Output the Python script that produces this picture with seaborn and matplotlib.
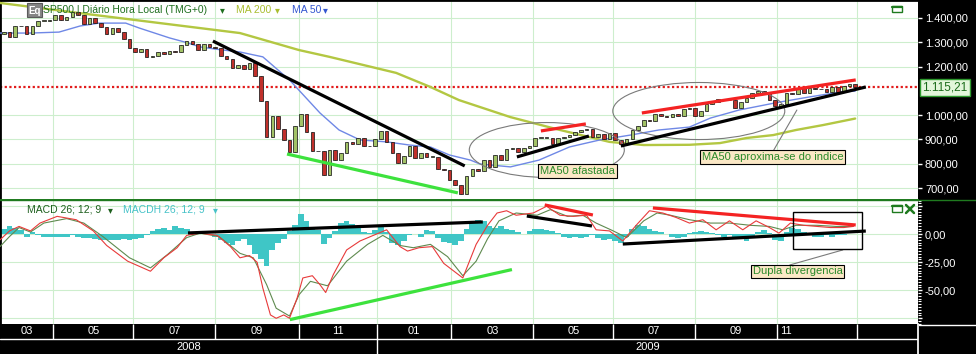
import matplotlib
matplotlib.use("Agg")
import matplotlib.pyplot as plt
import matplotlib.patches as mpatches
from matplotlib.lines import Line2D
from matplotlib.ticker import FuncFormatter, MultipleLocator
import numpy as np
import pandas as pd
import seaborn as sns

# ---------------- data (x = trading-session index, 0 = late March 2008) ----------------
session = list(range(2, 450, 3))          # one candle every 3 sessions
first_open = 1335
close = [1341, 1322, 1369, 1365, 1333, 1365, 1388, 1389, 1391, 1414,
         1393, 1404, 1424, 1413, 1376, 1398, 1378, 1361, 1336, 1360,
         1343, 1314, 1278, 1262, 1274, 1240, 1245, 1260, 1253, 1263,
         1260, 1289, 1305, 1293, 1267, 1292, 1282, 1278, 1242, 1232,
         1193, 1207, 1188, 1213, 1161, 1057, 910, 998, 941, 897,
         849, 954, 1006, 931, 852, 851, 752, 857, 816, 845,
         889, 880, 904, 872, 873, 903, 935, 890, 843, 805,
         832, 874, 825, 846, 827, 827, 779, 773, 735, 713,
         677, 751, 778, 769, 814, 788, 834, 816, 859, 865,
         850, 866, 874, 907, 907, 908, 883, 904, 910, 919,
         932, 939, 945, 912, 921, 901, 927, 896, 880, 901,
         940, 955, 979, 975, 1003, 997, 994, 1004, 997, 1026,
         1031, 998, 1016, 1044, 1053, 1068, 1061, 1063, 1030, 1055,
         1072, 1092, 1098, 1093, 1063, 1036, 1047, 1093, 1087, 1110,
         1091, 1111, 1109, 1106, 1096, 1114, 1096, 1118, 1128, 1115.21]

ma50_session = [0, 16, 31, 42, 52, 66, 73, 89, 97, 105, 113, 126, 138, 152, 168, 178, 189, 203,
                215, 226, 236, 247, 252, 268, 283, 299, 315, 331, 346, 362, 373, 388, 408, 425, 441, 449]
ma50 = [1338, 1338, 1342, 1367, 1379, 1379, 1359, 1318, 1301, 1281, 1272, 1260, 1240, 1145, 1009, 939,
        898, 890, 877, 869, 836, 815, 799, 787, 815, 869, 898, 918, 939, 951, 988, 1021, 1052, 1075, 1095, 1099]

ma200_session = [0, 42, 84, 126, 157, 173, 208, 226, 241, 268, 294, 320, 338, 362, 378, 392, 406, 418, 432, 449]
ma200 = [1462, 1420, 1379, 1338, 1268, 1240, 1174, 1116, 1062, 992, 939, 890, 877, 878, 885, 906, 918, 939, 959, 986]

macd_session = [0, 5, 10, 16, 21, 30, 40, 49, 56, 67, 79, 86, 93, 98, 105, 114, 121, 126, 131, 135,
                138, 142, 145, 149, 152, 156, 159, 164, 168, 171, 175, 182, 189, 196, 203, 210, 214, 220,
                227, 233, 243, 250, 256, 261, 266, 271, 280, 287, 294, 301, 308, 313, 320, 327, 334, 341,
                348, 355, 362, 369, 376, 383, 390, 397, 404, 409, 415, 422, 429, 436, 443, 448]
macd = [-5, 3, 7, 3, 10, 16, 13, 3, -10, -24, -33, -21, -12, -1, 1, -1, -11, -21, -19, -25,
        -48, -72, -75, -72, -75, -57, -39, -37, -45, -52, -36, -14, -6, -1, 4, -11, -15, -12,
        -11, -26, -39, -9, 8, 19, 21, 17, 19, 25, 17, 16, 17, 4, 3, -6, 8, 21,
        19, 15, 10, 13, 4, 12, 4, 12, 6, 1, 10, 8, 7, 6, 6, 7]

signal_session = [0, 5, 10, 16, 23, 35, 44, 54, 68, 79, 88, 98, 105, 115, 126, 133, 140, 145, 152, 157,
                  163, 172, 182, 193, 201, 210, 217, 226, 235, 243, 250, 256, 262, 271, 282, 289, 298, 306,
                  313, 322, 329, 338, 345, 352, 362, 373, 383, 394, 404, 411, 418, 429, 439, 448]
signal = [-11, -2, 6, 2, 10, 14, 10, -2, -21, -30, -18, -3, 1, -2, -17, -21, -45, -66, -73, -54,
          -42, -46, -24, -9, -1, -10, -12, -9, -20, -37, -24, -4, 12, 19, 17, 22, 16, 17,
          10, 3, -3, 12, 19, 17, 13, 10, 10, 8, 7, 4, 8, 8, 7, 7]

macdh = [5, 7, 6, 4, -2, 2, -1, -2, -2, -2,
         -2, -2, -1, -2, -3, -3, -4, -5, -5, -5,
         -5, -4, -5, -4, -3, -1, 3, 5, 6, 4,
         7, 6, 5, 1, 0, 0, -1, -2, -5, -8,
         -10, -6, -4, -10, -18, -22, -28, -14, -8, -4,
         3, 8, 18, 12, 6, 4, -9, -3, 3, 10,
         12, 9, 6, 2, 1, 4, 8, 2, -8, -10,
         -6, -1, 0, -2, 4, 3, -3, -7, -8, -10,
         -6, 5, 10, 13, 12, 7, 6, 7, 5, 4,
         2, 0, 3, 5, 5, 4, 3, 1, -2, -3,
         -2, -3, -2, -1, -3, -5, -4, -6, -8, -2,
         5, 8, 7, 5, 3, 2, 0, -2, -3, -2,
         1, 2, 3, 2, 1, -1, -2, -1, -2, -4,
         -6, -3, 2, 4, 1, -5, -6, 2, 6, 5,
         2, -1, -2, -2, -1, -2, -1, -1, 0, 0]

month_starts = [28, 70, 113, 157, 198, 237, 280, 322, 365, 408, 450]
month_labels = ["03", "05", "07", "09", "11", "01", "03", "05", "07", "09", "11"]
year_starts = [0, 198]
year_labels = ["2008", "2009"]
price_ticks = [700, 800, 900, 1000, 1200, 1300, 1400]
macd_ticks = [25, 0, -25, -50, -75]
macd_labeled = [0, -25, -50]
last_price = 1115.21

RED, GREEN, BLACK = "#f42323", "#3de23d", "black"
price_trends = [(111.8, 1305, 244.0, 791, BLACK), (150.7, 840, 240.4, 680, GREEN),
                (271.4, 828, 309.2, 914, BLACK), (284.0, 935, 307.6, 964, RED),
                (326.0, 873, 454.6, 1116, BLACK), (337.0, 1009, 449.3, 1145, RED)]
macd_trends = [(98.7, 1.2, 253.5, 11.0, BLACK), (152.2, -76.2, 268.8, -31.5, GREEN),
               (276.6, 16.3, 310.8, 7.4, BLACK), (286.0, 26.2, 311.3, 17.2, RED),
               (342.8, 23.5, 449.3, 8.3, RED), (327.0, -8.7, 454.6, 2.9, BLACK)]
ellipses = [(287.1, 856.6, 81.4, 226), (366.9, 1017, 90.3, 235)]

# ---------------- figure ----------------
sns.set_theme(style="white")
plt.rcParams["font.family"] = ["Liberation Sans", "DejaVu Sans"]

W, H = 976, 354
def fx(x): return x / W
def fy(y): return 1 - y / H

fig = plt.figure(figsize=(W / 100, H / 100), dpi=100, facecolor="black")
XMAX = 482
PW = 918
ax_p = fig.add_axes([0, fy(200), PW / W, 200 / H], facecolor="white")
ax_m = fig.add_axes([0, fy(324), PW / W, 124 / H], facecolor="white")
ax_d = fig.add_axes([0, 0, PW / W, 30 / H], facecolor="black")

def br(v, pos=None):
    s = f"{v:,.2f}"
    return s.replace(",", "X").replace(".", ",").replace("X", ".")

grid_c = "#cdeecd"
for ax in (ax_p, ax_m):
    ax.set_xlim(0, XMAX)
    ax.set_xticks(month_starts)
    ax.tick_params(axis="x", length=0, labelbottom=False, labeltop=False, bottom=False)
    ax.grid(True, which="major", color=grid_c, lw=0.8)
    ax.set_axisbelow(True)
    ax.spines["right"].set_visible(False)
    ax.spines["left"].set_color("black")
    ax.spines["left"].set_linewidth(2)

# ---- price panel ----
opens = [first_open] + close[:-1]
df = pd.DataFrame({"session": session, "open": opens, "close": close})
df["low"] = df[["open", "close"]].min(axis=1)
df["high"] = df[["open", "close"]].max(axis=1)
df["body"] = (df["close"] - df["open"]).abs().clip(lower=3)
df["up"] = df["close"] >= df["open"]
ax_p.vlines(df["session"], df["low"], df["high"], color="#1c1c1c", lw=0.8, zorder=4)
ax_p.bar(df["session"], df["body"], bottom=df["low"], width=1.9,
         color=np.where(df["up"], "#a2c266", "#c0302b"), edgecolor="#1c1c1c",
         linewidth=0.55, zorder=4)
sns.lineplot(x=ma200_session, y=ma200, ax=ax_p, color="#b3c742", lw=1.7, zorder=3)
sns.lineplot(x=ma50_session, y=ma50, ax=ax_p, color="#6f88e6", lw=1.0, zorder=3)
ax_p.axhline(last_price, color="#e21b1b", lw=1.6, ls=(0, (1, 1.1)), zorder=2)

for x0, y0, x1, y1, c in price_trends:
    ax_p.plot([x0, x1], [y0, y1], color=c, lw=2.3, solid_capstyle="butt", zorder=6)
for cx, cy, w, h in ellipses:
    ax_p.add_patch(mpatches.Ellipse((cx, cy), w, h, fill=False, ec="#7a7a7a", lw=0.8, zorder=5))
ax_p.plot([418.4, 405.8], [1021, 850], color="#7a7a7a", lw=0.8, zorder=5)
box = dict(boxstyle="square,pad=0.15", fc="#fbe8c6", ec="black", lw=0.8)
ax_p.text(303.2, 770, "MA50 afastada", ha="center", va="center", color="#2a8a2a",
          fontsize=8, bbox=box, zorder=7)
ax_p.text(405.8, 828, "MA50 aproxima-se do indice", ha="center", va="center",
          color="#2a8a2a", fontsize=8, bbox=box, zorder=7)

ax_p.set_ylim(650.7, 1474.1)
ax_p.yaxis.tick_right()
ax_p.set_yticks(price_ticks)
ax_p.yaxis.set_major_formatter(FuncFormatter(br))
ax_p.tick_params(axis="y", which="both", right=True, left=False, direction="out",
                 colors="white", labelsize=8, length=3, width=1, pad=2)
ax_p.spines["top"].set_color("black")
ax_p.spines["top"].set_linewidth(2)
ax_p.spines["bottom"].set_color("#1f7a1f")
ax_p.set_xlabel("")
ax_p.set_ylabel("")

# ---- MACD panel ----
ax_m.bar(session, macdh, width=3.0, color="#3fc6c6", lw=0, zorder=2)
sns.lineplot(x=signal_session, y=signal, ax=ax_m, color="#5f8a4f", lw=0.8, zorder=3)
sns.lineplot(x=macd_session, y=macd, ax=ax_m, color="#e83a3a", lw=0.8, zorder=3)
for x0, y0, x1, y1, c in macd_trends:
    ax_m.plot([x0, x1], [y0, y1], color=c, lw=2.3, solid_capstyle="butt", zorder=6)
ax_m.add_patch(mpatches.Rectangle((416.3, -13.1), 36.2, 33.0, fill=False, ec="black", lw=1, zorder=6))
ax_m.plot([442.5, 414.7], [-14, -27.4], color="#7a7a7a", lw=0.8, zorder=5)
ax_m.text(418.7, -33.2, "Dupla divergencia", ha="center", va="center", color="#2a8a2a",
          fontsize=8, bbox=box, zorder=7)
ax_m.set_ylim(-80.1, 30.6)
ax_m.yaxis.tick_right()
ax_m.set_yticks(macd_ticks)
ax_m.yaxis.set_major_formatter(FuncFormatter(lambda v, p: br(v) if v in macd_labeled else ""))
ax_m.yaxis.set_minor_locator(MultipleLocator(2.5))
ax_m.tick_params(axis="y", which="major", right=True, left=False, direction="out",
                 colors="white", labelsize=8, length=3, width=1, pad=2)
ax_m.tick_params(axis="y", which="minor", right=True, left=False, direction="out",
                 colors="white", length=2, width=0.8)
ax_m.spines["top"].set_color("#1f7a1f")
ax_m.spines["bottom"].set_visible(False)
ax_m.set_xlabel("")
ax_m.set_ylabel("")

# ---- date strip ----
ax_d.set_xlim(0, XMAX)
ax_d.set_ylim(30, 0)
ax_d.set_xticks([])
ax_d.set_yticks([])
for s in ("top", "bottom", "left"):
    ax_d.spines[s].set_visible(False)
ax_d.spines["right"].set_color("white")
ax_d.axhline(15, color="white", lw=1)
ax_d.vlines(month_starts, 0, 15, color="white", lw=1)
ax_d.vlines(year_starts[1:], 15, 30, color="white", lw=1)
bounds = [0] + month_starts
for k, lab in enumerate(month_labels):
    if k == len(month_labels) - 1:
        ax_d.text(bounds[k] + 1.5, 7.5, lab, color="white", fontsize=8, ha="left", va="center")
    else:
        ax_d.text((bounds[k] + bounds[k + 1]) / 2, 7.5, lab, color="white", fontsize=8,
                  ha="center", va="center")
ybounds = year_starts + [XMAX]
for k, lab in enumerate(year_labels):
    ax_d.text((ybounds[k] + ybounds[k + 1]) / 2, 22.5, lab, color="white", fontsize=8,
              ha="center", va="center")

# ---- figure-level decorations ----
fig.add_artist(Line2D([0, 1], [fy(200), fy(200)], color="#1f7a1f", lw=1, transform=fig.transFigure))
fig.add_artist(Line2D([fx(919), 1], [fy(324.5), fy(324.5)], color="white", lw=1, transform=fig.transFigure))

fig.add_artist(mpatches.Rectangle((fx(27), fy(17)), 15 / W, 14 / H, transform=fig.transFigure,
                                  fc="#858585", ec="#5a5a5a", lw=0.8))
fig.text(fx(34.5), fy(10.5), "Eq", color="white", fontsize=7, fontweight="bold", ha="center", va="center")
fig.text(fx(43), fy(10), "SP500 | Diário Hora Local (TMG+0)", color="#1f6f1f", fontsize=7.5,
         ha="left", va="center")
fig.text(fx(222), fy(10), "▾", color="#1f6f1f", fontsize=7, ha="center", va="center")
fig.text(fx(236), fy(10), "MA 200", color="#a9bd2e", fontsize=7.5, ha="left", va="center")
fig.text(fx(277), fy(10), "▾", color="#a9bd2e", fontsize=7, ha="center", va="center")
fig.text(fx(292), fy(10), "MA 50", color="#3355d0", fontsize=7.5, ha="left", va="center")
fig.text(fx(325), fy(10), "▾", color="#3355d0", fontsize=7, ha="center", va="center")

fig.text(fx(27), fy(210), "MACD 26; 12; 9", color="#1d5f1d", fontsize=7.5, ha="left", va="center")
fig.text(fx(110), fy(210), "▾", color="#1d5f1d", fontsize=7, ha="center", va="center")
fig.text(fx(123), fy(210), "MACDH 26; 12; 9", color="#46c2c8", fontsize=7.5, ha="left", va="center")
fig.text(fx(215), fy(210), "▾", color="#46c2c8", fontsize=7, ha="center", va="center")

icon_c = "#1e7a1e"
fig.add_artist(mpatches.Rectangle((fx(892), fy(12)), 10 / W, 6 / H, transform=fig.transFigure,
                                  fill=False, ec=icon_c, lw=1))
fig.add_artist(Line2D([fx(892), fx(902)], [fy(6.5), fy(6.5)], color=icon_c, lw=1.6, transform=fig.transFigure))
fig.add_artist(mpatches.Rectangle((fx(892), fy(212)), 10 / W, 7 / H, transform=fig.transFigure,
                                  fill=False, ec=icon_c, lw=1))
fig.add_artist(Line2D([fx(892), fx(902)], [fy(205.5), fy(205.5)], color=icon_c, lw=1.6, transform=fig.transFigure))
fig.add_artist(Line2D([fx(906), fx(914)], [fy(205), fy(213)], color=icon_c, lw=1.8, transform=fig.transFigure))
fig.add_artist(Line2D([fx(906), fx(914)], [fy(213), fy(205)], color=icon_c, lw=1.8, transform=fig.transFigure))

fig.text(fx(922), fy(87.5), br(last_price), ha="left", va="center", fontsize=8.5, color="#1b6b1b",
         bbox=dict(boxstyle="square,pad=0.2", fc="#e3f6db", ec="#2e9a2e", lw=1))

fig.savefig("out.png", dpi=100, facecolor="black")
